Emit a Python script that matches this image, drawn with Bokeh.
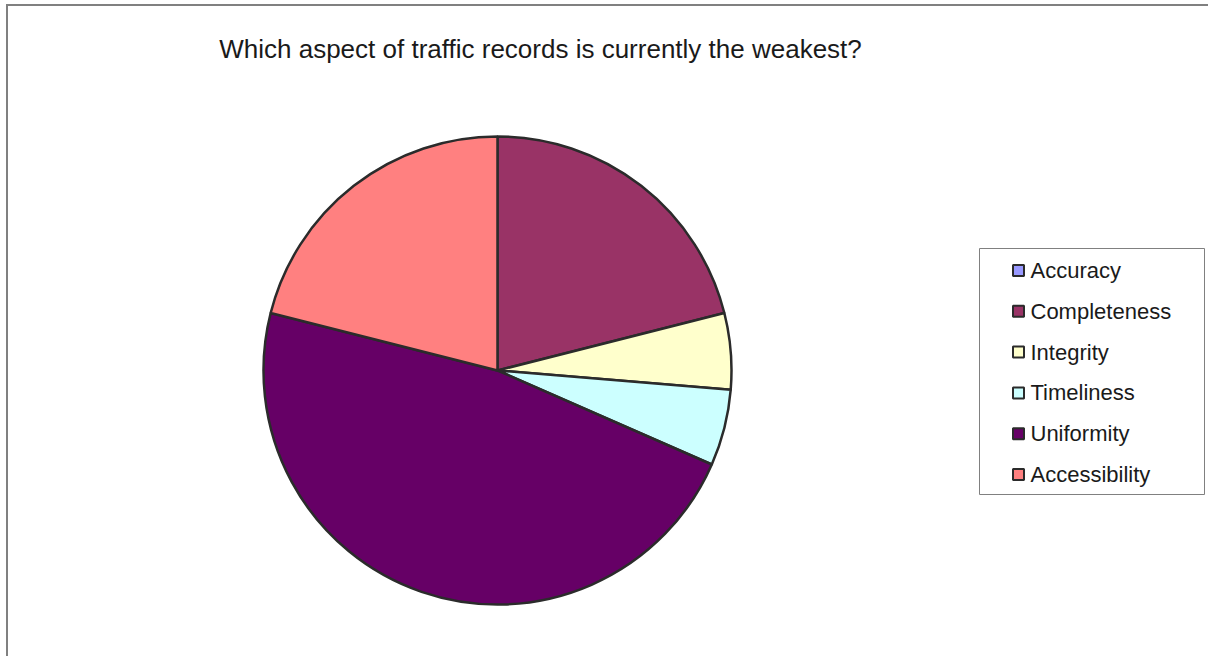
import numpy as np
from bokeh.plotting import figure
from bokeh.models import ColumnDataSource
from bokeh.core.properties import value
from bokeh.embed import file_html
from bokeh.resources import INLINE

title_text = "Which aspect of traffic records is currently the weakest?"
categories = ["Accuracy", "Completeness", "Integrity", "Timeliness", "Uniformity", "Accessibility"]
counts = [0, 4, 1, 1, 9, 4]
colors = ["#9999FF", "#993366", "#FFFFCC", "#CCFFFF", "#660066", "#FF8080"]

W, H = 1202, 652
p = figure(width=W, height=H, x_range=(0, W), y_range=(0, H),
           output_backend="svg", toolbar_location=None, min_border=0)
p.axis.visible = False
p.grid.visible = False
p.outline_line_color = None
p.styles = {"border-left": "2px solid #808080", "border-top": "2px solid #808080",
            "margin-left": "6px", "margin-top": "4px"}

vals = np.array(counts, dtype=float)
frac = vals / vals.sum()
cum = np.concatenate([[0], np.cumsum(frac)])
start = np.pi / 2 - cum[:-1] * 2 * np.pi
end = np.pi / 2 - cum[1:] * 2 * np.pi
nz = vals > 0
src_nz = ColumnDataSource(dict(cat=[c for c, k in zip(categories, nz) if k],
                               start=start[nz], end=end[nz],
                               color=[c for c, k in zip(colors, nz) if k]))
cx, cy, r = 489, 288, 234
p.wedge(x=cx, y=cy, radius=r, start_angle="start", end_angle="end", direction="clock",
        fill_color="color", line_color="#2b2b2b", line_width=2.5, source=src_nz)

p.text(x=[532], y=[610], text=[title_text], text_font=value("Liberation Sans"),
       text_font_size="26px", text_color="#1a1a1a", text_align="center", text_baseline="middle")

# legend
p.rect(x=[1083.5], y=[287], width=225, height=246, fill_color="white",
       line_color="#808080", line_width=1)
ly = 388 - np.arange(len(categories)) * 40.8
p.scatter(x=[1010] * len(categories), y=ly, marker="square", size=11,
          fill_color=colors, line_color="#2b2b2b", line_width=2)
p.text(x=[1022] * len(categories), y=ly, text=categories, text_font=value("Liberation Sans"),
       text_font_size="22px", text_color="#1a1a1a", text_align="left", text_baseline="middle")

open("out.html", "w").write(file_html(p, INLINE))
